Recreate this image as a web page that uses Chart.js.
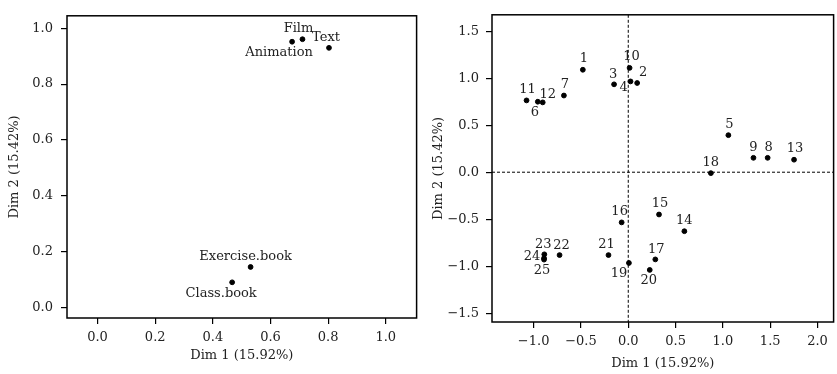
<!DOCTYPE html>
<html>
<head>
<meta charset="utf-8">
<script src="https://cdn.jsdelivr.net/npm/chart.js@4.4.0/dist/chart.umd.min.js"></script>
<style>
body{margin:0;background:#fff;}
#wrap{position:relative;width:837px;height:374px;}
.panel{position:absolute;top:0;height:374px;}
</style>
</head>
<body>
<div id="wrap">
  <div class="panel" style="left:0;width:420px"><canvas id="leftChart" width="420" height="374"></canvas></div>
  <div class="panel" style="left:420px;width:417px"><canvas id="rightChart" width="417" height="374"></canvas></div>
</div>
<script>
// ==================== DATA ====================
const mediaNames = ["Film", "Text", "Animation", "Exercise.book", "Class.book"];
const mediaDim1 = [0.711, 0.803, 0.675, 0.531, 0.467];
const mediaDim2 = [0.961, 0.930, 0.952, 0.144, 0.089];
const leftTicksX = [0, 0.2, 0.4, 0.6, 0.8, 1.0];
const leftTicksY = [0, 0.2, 0.4, 0.6, 0.8, 1.0];

const indNames = ["1","2","3","4","5","6","7","8","9","10","11","12","13",
                  "14","15","16","17","18","19","20","21","22","23","24","25"];
const indDim1 = [-0.48, 0.094, -0.15, 0.024, 1.058, -0.956, -0.68, 1.473, 1.323, 0.014, -1.075, -0.904, 1.752,
                 0.593, 0.325, -0.07, 0.286, 0.873, 0.007, 0.227, -0.209, -0.726, -0.887, -0.89, -0.89];
const indDim2 = [1.09, 0.949, 0.935, 0.966, 0.394, 0.75, 0.816, 0.153, 0.153, 1.11, 0.764, 0.743, 0.133,
                 -0.628, -0.45, -0.534, -0.928, -0.01, -0.966, -1.04, -0.882, -0.882, -0.874, -0.915, -0.93];
const rightTicksX = [-1, -0.5, 0, 0.5, 1, 1.5, 2];
const rightTicksY = [-1.5, -1, -0.5, 0, 0.5, 1, 1.5];

const xTitle = "Dim 1 (15.92%)";
const yTitle = "Dim 2 (15.42%)";

// label placement relative to the point (pixels), style only
const mediaLabelOffsets = [[-4,-10.5],[-3,-10],[-13,10.5],[-5,-10.5],[-11,11]];
const indLabelOffsets = [[1,-11.5],[6,-10.5],[-1,-10],[-7,6],[1,-11],[-3,11],[1,-10.5],[1,-10.5],[0,-10.5],
                         [2,-11],[1,-10.5],[5,-8],[1,-11],[0,-10.5],[1,-10.5],[-2,-10.5],[1,-10],[0,-10.5],
                         [-10,10.5],[-1,11],[-2,-10.5],[2,-9.5],[-1,-10],[-12,-2],[-2,11]];

// ==================== HELPERS ====================
const FONT = "DejaVu Serif";
const INK = "#222";

function fmt(v){
    return v.toFixed(1).replace("-", "\u2212");
}

const decorPlugin = {
    id: "decor",
    afterDatasetsDraw(chart, args, opts){
        const {ctx, chartArea: a, scales} = chart;
        ctx.save();
        if(opts.zeroLines){
            ctx.strokeStyle = "#000";
            ctx.lineWidth = 1;
            ctx.setLineDash([3, 2]);
            const x0 = scales.x.getPixelForValue(0);
            const y0 = scales.y.getPixelForValue(0);
            ctx.beginPath();
            ctx.moveTo(x0, a.top); ctx.lineTo(x0, a.bottom);
            ctx.moveTo(a.left, y0); ctx.lineTo(a.right, y0);
            ctx.stroke();
            ctx.setLineDash([]);
        }
        // labels
        ctx.fillStyle = INK;
        ctx.font = "13px '" + FONT + "'";
        ctx.textAlign = "center";
        ctx.textBaseline = "middle";
        const meta = chart.getDatasetMeta(0);
        meta.data.forEach((pt, i) => {
            const off = opts.offsets[i];
            ctx.fillText(opts.names[i], pt.x + off[0], pt.y + off[1]);
        });
        // frame
        ctx.strokeStyle = "#000";
        ctx.lineWidth = 1.5;
        ctx.strokeRect(a.left, a.top, a.right - a.left, a.bottom - a.top);
        ctx.restore();
    }
};

function makeChart(id, names, xs, ys, cfg){
    const ctx = document.getElementById(id).getContext("2d");
    return new Chart(ctx, {
        type: "scatter",
        data: {
            datasets: [{
                data: xs.map((x, i) => ({x: x, y: ys[i]})),
                backgroundColor: "#000",
                borderColor: "#000",
                pointRadius: 2.4,
                pointHoverRadius: 2.4
            }]
        },
        plugins: [decorPlugin],
        options: {
            responsive: false,
            animation: false,
            layout: { padding: cfg.padding },
            plugins: {
                legend: { display: false },
                tooltip: { enabled: false },
                decor: { names: names, offsets: cfg.offsets, zeroLines: cfg.zeroLines }
            },
            scales: {
                x: {
                    type: "linear",
                    min: cfg.xMin, max: cfg.xMax,
                    afterBuildTicks: s => { s.ticks = cfg.xTicks.map(v => ({value: v})); },
                    afterFit: s => { s.height = cfg.xAxisHeight; },
                    grid: { drawOnChartArea: false, drawTicks: true, tickLength: 6, color: "#000", lineWidth: 1.2 },
                    border: { display: false },
                    ticks: { color: INK, font: { family: FONT, size: 13 }, padding: 6, maxRotation: 0,
                             callback: v => fmt(v) },
                    title: { display: true, text: xTitle, color: INK, font: { family: FONT, size: 13 },
                             padding: { top: 0, bottom: cfg.xTitlePad } }
                },
                y: {
                    type: "linear",
                    min: cfg.yMin, max: cfg.yMax,
                    afterBuildTicks: s => { s.ticks = cfg.yTicks.map(v => ({value: v})); },
                    afterFit: s => { s.width = cfg.yAxisWidth; },
                    grid: { drawOnChartArea: false, drawTicks: true, tickLength: 6, color: "#000", lineWidth: 1.2 },
                    border: { display: false },
                    ticks: { color: INK, font: { family: FONT, size: 13 }, padding: cfg.yTickPad,
                             callback: v => fmt(v) },
                    title: { display: true, text: yTitle, color: INK, font: { family: FONT, size: 13 },
                             padding: { top: cfg.yTitlePad, bottom: 0 } }
                }
            }
        }
    });
}

// ==================== CHARTS ====================
makeChart("leftChart", mediaNames, mediaDim1, mediaDim2, {
    xMin: -0.106, xMax: 1.107, yMin: -0.039, yMax: 1.045,
    xTicks: leftTicksX, yTicks: leftTicksY,
    padding: { top: 6, right: 3, left: 0, bottom: 0 },
    xAxisHeight: 56, yAxisWidth: 67,
    xTitlePad: 11, yTitlePad: 7, yTickPad: 8,
    offsets: mediaLabelOffsets, zeroLines: false
});

makeChart("rightChart", indNames, indDim1, indDim2, {
    xMin: -1.44, xMax: 2.17, yMin: -1.594, yMax: 1.675,
    xTicks: rightTicksX, yTicks: rightTicksY,
    padding: { top: 9, right: 1, left: 0, bottom: 0 },
    xAxisHeight: 52, yAxisWidth: 72,
    xTitlePad: 3, yTitlePad: 11, yTickPad: 7,
    offsets: indLabelOffsets, zeroLines: true
});
</script>
</body>
</html>
